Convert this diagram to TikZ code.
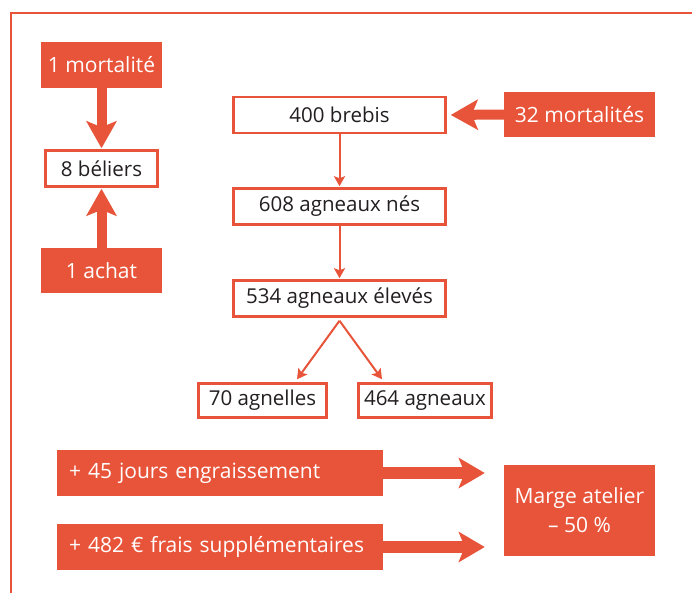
\documentclass[tikz,border=0pt]{standalone}
\usepackage{fontspec}
\setmainfont{Open Sans}
\usetikzlibrary{arrows.meta,calc}
\definecolor{org}{RGB}{232,84,58}
\definecolor{ink}{RGB}{35,31,32}
\begin{document}
\begin{tikzpicture}[x=1pt,y=-1pt,
  wbox/.style={draw=org, line width=2.5pt, fill=white, text=ink,
    font=\fontsize{20.5}{24}\selectfont, inner sep=0pt},
  obox/.style={fill=org, text=white, font=\fontsize{21}{29}\selectfont, inner sep=0pt},
  lbox/.style={obox, minimum width=326pt, minimum height=46pt, text width=302pt, align=left},
  thin/.style={draw=org, line width=2pt, -{Stealth[length=10pt,width=11pt,inset=2pt]}},
  thick/.style={draw=org, line width=10pt, -{Stealth[length=27pt,width=30pt,inset=6pt]}},
  thickb/.style={draw=org, line width=12pt, -{Stealth[length=26pt,width=30pt,inset=6pt]}}
]
\useasboundingbox (0,0) rectangle (692,592);
\clip (0,0) rectangle (692,592);
\draw[org, line width=2pt] (11,13) rectangle (720,620);

% left column
\node[obox, minimum width=121pt, minimum height=46pt] (mort1) at (101.5,65) {1 mortalité};
\node[wbox, minimum width=112pt, minimum height=36pt] (beliers) at (101.5,168.5) {8 béliers};
\node[obox, minimum width=121pt, minimum height=45pt] (achat) at (101.5,270.5) {1 achat};
\draw[thick, shorten >=1pt] (mort1.south) -- (beliers.north);
\draw[thick, shorten >=1pt] (achat.north) -- (beliers.south);

% main chain
\node[wbox, minimum width=212pt, minimum height=36pt] (brebis) at (339.5,115) {400 brebis};
\node[obox, minimum width=151pt, minimum height=45pt] (mort32) at (579.5,114.5) {32 mortalités};
\node[wbox, minimum width=212pt, minimum height=36pt] (nes) at (339.5,206.5) {608 agneaux nés};
\node[wbox, minimum width=212pt, minimum height=36pt] (eleves) at (339.5,298.5) {534 agneaux élevés};
\node[wbox, minimum width=128pt, minimum height=34pt] (agnelles) at (262.5,400.5) {70 agnelles};
\node[wbox, minimum width=133pt, minimum height=34pt] (agneaux) at (425,400.5) {464 agneaux};

\draw[thick, shorten >=4pt] (mort32.west) -- (brebis.east);
\draw[thin, shorten >=1pt] (brebis.south) -- (nes.north);
\draw[thin, shorten >=1pt] (nes.south) -- (eleves.north);
\draw[thin] ($(eleves.south)+(0,3)$) -- ($(agnelles.north)+(34.5,-3)$);
\draw[thin] ($(eleves.south)+(0,3)$) -- ($(agneaux.north)+(-43,-3)$);

% bottom
\node[lbox] (jours) at (220,473) {\mbox{+ 45 jours engraissement}};
\node[lbox] (frais) at (220,547) {\mbox{+ 482 € frais supplémentaires}};
\node[obox, minimum width=151pt, minimum height=91pt, align=center] (marge) at (579.5,510.5) {Marge atelier\\– 50 \%};
\draw[thickb] (jours.east) -- ($(jours.east -| marge.west)+(-19,0)$);
\draw[thickb] (frais.east) -- ($(frais.east -| marge.west)+(-19,0)$);
\end{tikzpicture}
\end{document}
